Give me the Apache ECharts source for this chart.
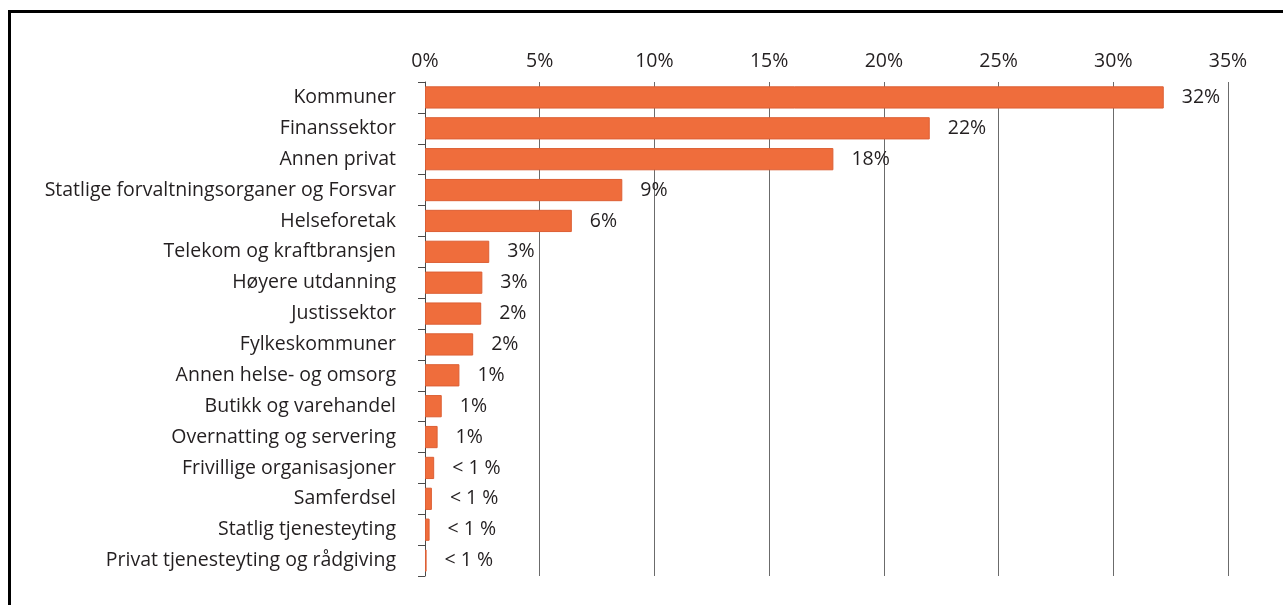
<!DOCTYPE html>
<html>
<head>
<meta charset="utf-8">
<script src="https://cdn.jsdelivr.net/npm/echarts@6/dist/echarts.min.js"></script>
<style>
  html, body { margin: 0; padding: 0; background: #fff; }
  .frame {
    position: absolute;
    left: 8px;
    top: 10px;
    width: 1275px;
    height: 595px;
    border-top: 3px solid #000;
    border-left: 3px solid #000;
    box-sizing: border-box;
  }
  #chart { position: absolute; left: 0; top: 0; width: 1283px; height: 605px; }
</style>
</head>
<body>
<div class="frame"></div>
<div id="chart"></div>
<script>
const categories = [
  'Kommuner',
  'Finanssektor',
  'Annen privat',
  'Statlige forvaltningsorganer og Forsvar',
  'Helseforetak',
  'Telekom og kraftbransjen',
  'Høyere utdanning',
  'Justissektor',
  'Fylkeskommuner',
  'Annen helse- og omsorg',
  'Butikk og varehandel',
  'Overnatting og servering',
  'Frivillige organisasjoner',
  'Samferdsel',
  'Statlig tjenesteyting',
  'Privat tjenesteyting og rådgiving'
];

// andel i prosent, lest av figuren
const shares = [32.2, 22.0, 17.8, 8.6, 6.4, 2.8, 2.5, 2.45, 2.1, 1.5, 0.73, 0.55, 0.4, 0.3, 0.2, 0.07];

// tekst ved siden av hver stolpe
const valueLabels = ['32%', '22%', '18%', '9%', '6%', '3%', '3%', '2%', '2%', '1%', '1%', '1%', '< 1 %', '< 1 %', '< 1 %', '< 1 %'];

const axisTicks = [0, 5, 10, 15, 20, 25, 30, 35];

const textColor = '#231f20';
const font = '"Open Sans", "Noto Sans", sans-serif';
const fontSize = 19.5;

const chart = echarts.init(document.getElementById('chart'));

chart.setOption({
  animation: false,
  grid: { left: 425, right: 55, top: 82, bottom: 29 },
  xAxis: {
    type: 'value',
    position: 'top',
    min: axisTicks[0],
    max: axisTicks[axisTicks.length - 1],
    interval: 5,
    axisLine: { show: false },
    axisTick: { show: false },
    axisLabel: {
      margin: 11,
      color: textColor,
      fontFamily: font,
      fontSize: fontSize,
      formatter: '{value}%'
    },
    splitLine: { show: true, lineStyle: { color: '#6b6b6b', width: 1 } }
  },
  yAxis: {
    type: 'category',
    inverse: true,
    data: categories,
    axisLine: { show: true, lineStyle: { color: '#4a4a4a', width: 1 } },
    axisTick: { show: true, length: 7, lineStyle: { color: '#4a4a4a' } },
    axisLabel: {
      margin: 29,
      color: textColor,
      fontFamily: font,
      fontSize: fontSize
    }
  },
  series: [
    {
      type: 'bar',
      data: shares,
      barCategoryGap: '28%',
      itemStyle: { color: '#ef6d3c', borderColor: '#dd5f34', borderWidth: 1 },
      label: {
        show: true,
        position: 'right',
        distance: 18,
        color: textColor,
        fontFamily: font,
        fontSize: fontSize,
        formatter: p => valueLabels[p.dataIndex]
      }
    }
  ]
});
</script>
</body>
</html>
